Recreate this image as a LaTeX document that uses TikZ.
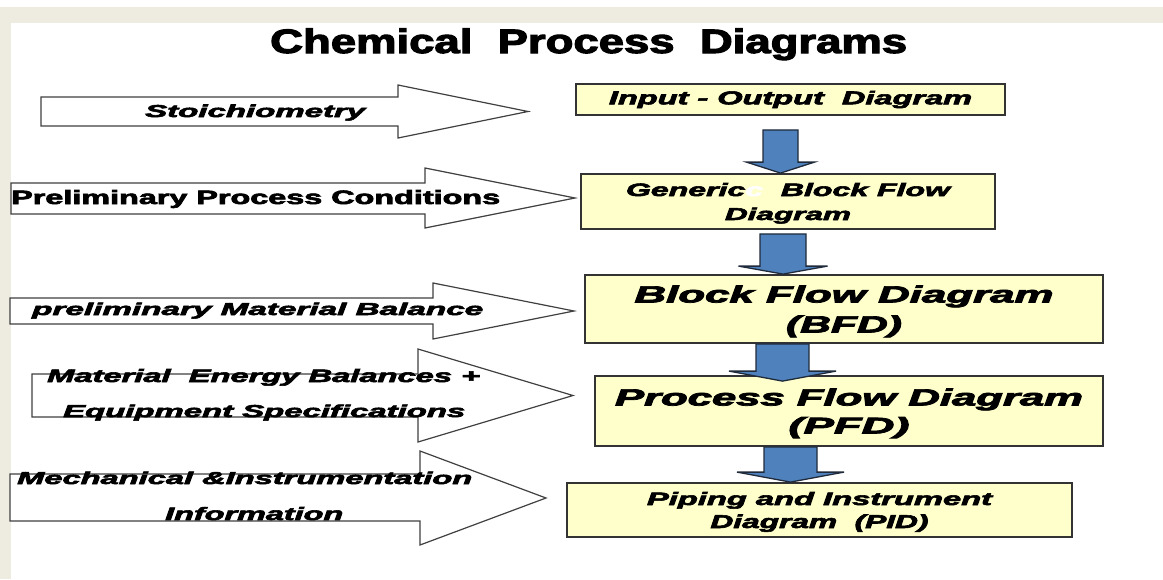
\documentclass[tikz,border=0pt]{standalone}
\usepackage{fontspec}
\setmainfont{Liberation Sans}[BoldFeatures={FakeBold=3}, BoldItalicFeatures={FakeBold=3}]
\usepackage{graphicx}
\usetikzlibrary{calc}

\definecolor{paneltan}{HTML}{EEECE1}
\definecolor{boxfill}{HTML}{FFFFCC}
\definecolor{boxline}{HTML}{333333}
\definecolor{flowblue}{HTML}{4F81BD}
\definecolor{flowline}{HTML}{1F2A3A}
\definecolor{inline}{HTML}{404040}

% text set to an exact width and cap height (in pt)
\newcommand\fitbi[3]{\resizebox{#1pt}{#2pt}{\bfseries\itshape #3}}
\newcommand\fitb[3]{\resizebox{#1pt}{#2pt}{\bfseries #3}}

% white input arrow: shaft left, shaft top, shaft bottom, head x, head top, head bottom, tip x, tip y
\newcommand\inarrow[8]{%
  \draw[inputarrow] (#1,#2) -- (#4,#2) -- (#4,#5) -- (#7,#8) -- (#4,#6) -- (#4,#3) -- (#1,#3) -- cycle;}

% blue block arrow from one stage to the next:
% from, to, centre x, shaft half width, head half width, gap below source, head length, overlap into target
\newcommand\flowdown[8]{%
  \draw[flowarrow] let \p1=(#1.south), \p2=(#2.north) in
    (#3pt-#4pt, \y1-#6pt) -- (#3pt+#4pt, \y1-#6pt)
    -- (#3pt+#4pt, \y2-#8pt+#7pt) -- (#3pt+#5pt, \y2-#8pt+#7pt)
    -- (#3pt, \y2-#8pt)
    -- (#3pt-#5pt, \y2-#8pt+#7pt) -- (#3pt-#4pt, \y2-#8pt+#7pt) -- cycle;}

\begin{document}
\begin{tikzpicture}[x=1pt, y=-1pt,
  stagebox/.style={draw=boxline, line width=1.8pt, fill=boxfill, inner sep=0pt, align=center},
  inputarrow/.style={draw=inline, line width=1.2pt, fill=white, line join=miter},
  flowarrow/.style={draw=flowline, line width=1.3pt, fill=flowblue, line join=miter},
  lbl/.style={inner sep=0pt, anchor=base west}]

\useasboundingbox (0,0) rectangle (1163,579);
\fill[white] (0,0) rectangle (1163,579);
\fill[paneltan] (0,7) rectangle (1163,23);
\fill[paneltan] (0,7) rectangle (11,579);

% title
\node[lbl] (title) at (270,53) {\fitb{637}{24.5}{Chemical\ \ Process\ \ Diagrams}};

% input arrows on the left
\inarrow{41}{97}{126}{398}{85}{138}{528}{111.5}
\inarrow{11}{183}{214}{425}{168}{228}{575}{198}
\inarrow{10}{298}{324}{433}{283}{339}{574}{311}
\inarrow{32}{374}{417}{418}{349}{442}{573}{395.5}
\inarrow{10}{474}{521}{420}{451}{545}{546}{498}

\node[lbl] (stoich)   at (145,117) {\fitbi{220}{12.5}{Stoichiometry}};
\node[lbl] (prelimpc) at (11,204)  {\fitb{489}{14}{Preliminary Process Conditions}};
\node[lbl] (prelimmb) at (32,315)  {\fitbi{451}{12.5}{preliminary Material Balance}};
\node[lbl] (meb1)     at (47,382)  {\fitbi{433}{13}{Material\ \ Energy Balances +}};
\node[lbl] (meb2)     at (63,417)  {\fitbi{402}{12.5}{Equipment Specifications}};
\node[lbl] (mech1)    at (17,484)  {\fitbi{455}{12.5}{Mechanical \&Instrumentation}};
\node[lbl] (mech2)    at (165,520) {\fitbi{178}{13}{Information}};

% stages of the design
\node[stagebox, minimum width=429pt, minimum height=31pt] (io) at (790.5,99.5)
  {\fitbi{363}{13.5}{Input - Output\ \ Diagram}};
\node[stagebox, minimum width=414pt, minimum height=55pt, text depth=0pt,
      font=\fontsize{10}{24}\selectfont] (gbfd) at (788,201.5)
  {\fitbi{324}{13}{Generic\textcolor{white}{c}\ \ Block Flow}\\\fitbi{126}{12.5}{Diagram}};
\node[stagebox, minimum width=518pt, minimum height=68pt, text depth=0pt,
      font=\fontsize{10}{30}\selectfont] (bfd) at (844,309)
  {\fitbi{419}{17}{Block Flow Diagram}\\\fitbi{116}{17}{(BFD)}};
\node[stagebox, minimum width=508pt, minimum height=70pt, text depth=0pt,
      font=\fontsize{10}{28}\selectfont] (pfd) at (849,411)
  {\fitbi{468}{17}{Process Flow Diagram}\\\fitbi{121}{16.5}{(PFD)}};
\node[stagebox, minimum width=505pt, minimum height=54pt, text depth=0pt,
      font=\fontsize{10}{23}\selectfont] (pid) at (819.5,510)
  {\fitbi{345}{13}{Piping and Instrument}\\\fitbi{218}{13.5}{Diagram\ \ (PID)}};

% flow between stages
\flowdown{io}{gbfd}{780.5}{17.5}{34}{14}{11}{0}
\flowdown{gbfd}{bfd}{783}{23}{44.5}{4}{8}{0}
\flowdown{bfd}{pfd}{782.5}{26.5}{53.5}{0}{10}{6}
\flowdown{pfd}{pid}{790.5}{26.5}{53.5}{0}{10}{0}

\end{tikzpicture}
\end{document}
